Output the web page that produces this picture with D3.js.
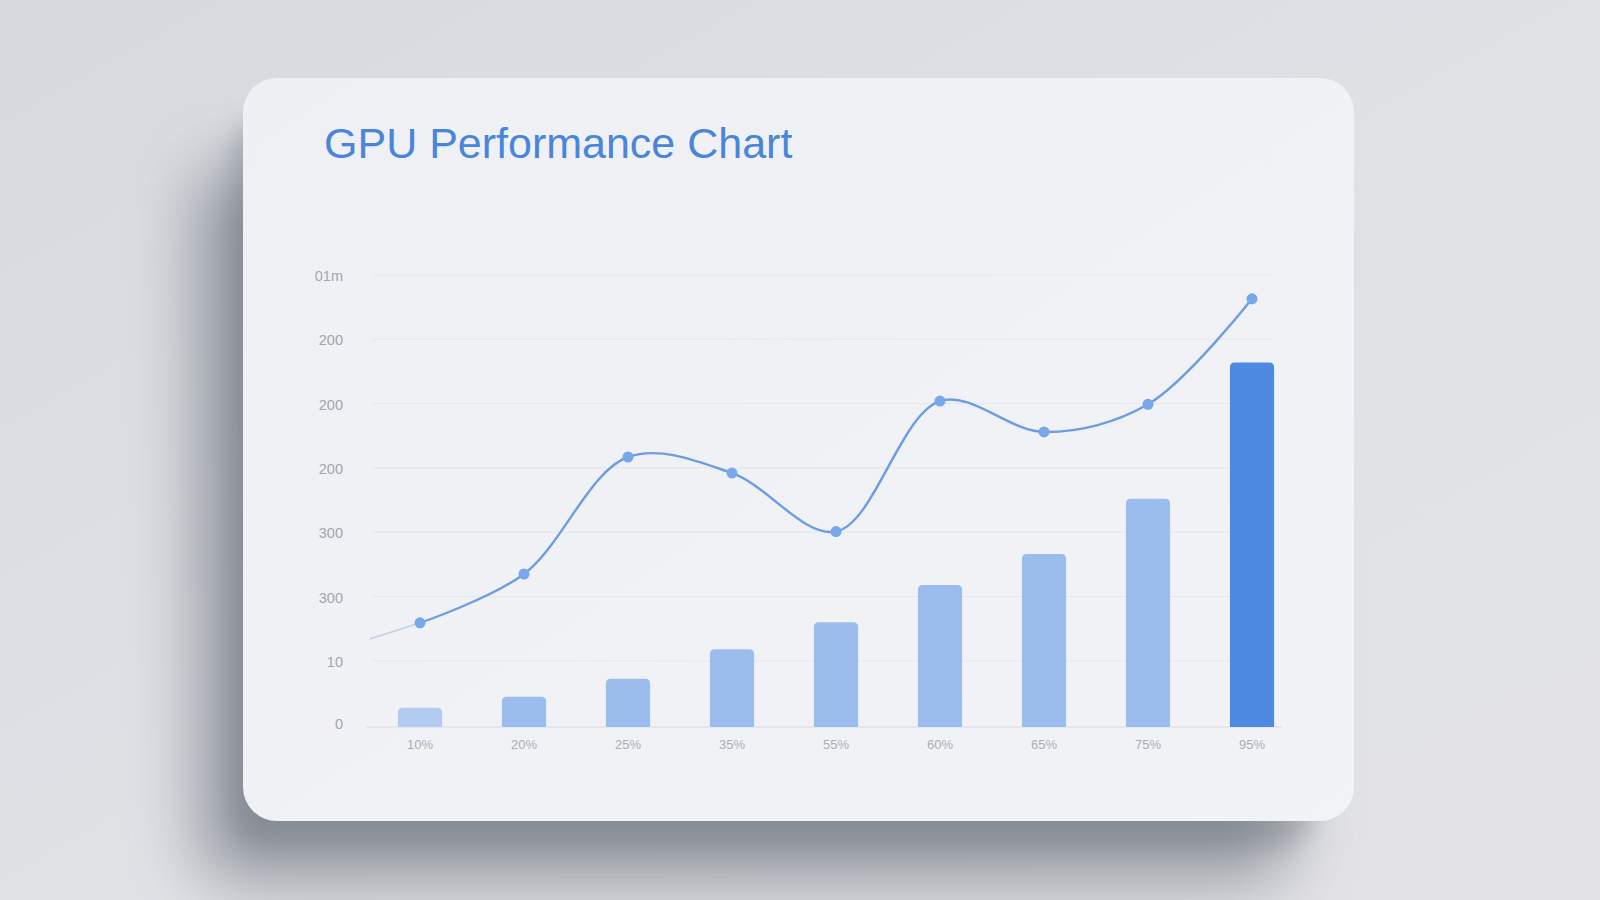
<!DOCTYPE html>
<html>
<head>
<meta charset="utf-8">
<script src="https://cdn.jsdelivr.net/npm/d3@7"></script>
<style>
  html, body { margin: 0; padding: 0; width: 1600px; height: 900px; overflow: hidden; background: #dfe1e5; }
  svg { display: block; }
</style>
</head>
<body>
<svg id="chart" width="1600" height="900"></svg>
<script>
// ---- data ----
const categories = ["10%", "20%", "25%", "35%", "55%", "60%", "65%", "75%", "95%"];
const barValues  = [30, 47, 75, 121, 163, 221, 269, 355, 567];
const lineValues = [162, 238, 420, 395, 304, 507, 459, 502, 666];
const lineLeadValue = 137;           // faint lead-in at the left edge of the plot
const yTickValues = [0, 100, 200, 300, 400, 500, 600, 700];
const yTickLabels = ["0", "10", "300", "300", "200", "200", "200", "01m"];
const titleText = "GPU Performance Chart";

// ---- layout ----
const W = 1600, H = 900;
const card = { x: 243, y: 78, w: 1111, h: 743, r: 34 };
const plot = { left: 368, right: 1304, top: 277, bottom: 727 };

const svg = d3.select("#chart");
const defs = svg.append("defs");

// background gradient
const bg = defs.append("linearGradient").attr("id", "bg").attr("x1", 0).attr("y1", 0).attr("x2", 1).attr("y2", 1);
bg.append("stop").attr("offset", "0%").attr("stop-color", "#d6d9de");
bg.append("stop").attr("offset", "55%").attr("stop-color", "#e0e2e6");
bg.append("stop").attr("offset", "100%").attr("stop-color", "#e3e3e7");
svg.append("rect").attr("width", W).attr("height", H).attr("fill", "url(#bg)");

// card shadow
const sh = defs.append("filter").attr("id", "shadow").attr("x", "-30%").attr("y", "-30%").attr("width", "160%").attr("height", "160%");
sh.append("feGaussianBlur").attr("stdDeviation", 34);
const sh2 = defs.append("filter").attr("id", "shadow2").attr("x", "-30%").attr("y", "-30%").attr("width", "160%").attr("height", "160%");
sh2.append("feGaussianBlur").attr("stdDeviation", 12);

svg.append("rect")
  .attr("x", card.x - 45).attr("y", card.y + 90).attr("width", card.w - 20).attr("height", card.h - 30)
  .attr("rx", card.r).attr("fill", "#5f6670").attr("opacity", 0.6).attr("filter", "url(#shadow)");
svg.append("rect")
  .attr("x", card.x - 12).attr("y", card.y + 40).attr("width", card.w - 30).attr("height", card.h - 15)
  .attr("rx", card.r).attr("fill", "#6d747e").attr("opacity", 0.35).attr("filter", "url(#shadow2)");

// card
const cg = defs.append("linearGradient").attr("id", "cardg").attr("x1", 0).attr("y1", 0).attr("x2", 1).attr("y2", 1);
cg.append("stop").attr("offset", "0%").attr("stop-color", "#eef0f3");
cg.append("stop").attr("offset", "100%").attr("stop-color", "#f2f3f6");
svg.append("rect")
  .attr("x", card.x).attr("y", card.y).attr("width", card.w).attr("height", card.h)
  .attr("rx", card.r).attr("fill", "url(#cardg)");

// title
svg.append("text")
  .attr("x", 324).attr("y", 158)
  .attr("font-family", "'Liberation Sans', Arial, sans-serif")
  .attr("font-size", 43)
  .attr("fill", "#4a85dc")
  .text(titleText);

// ---- scales ----
const x = d3.scaleBand().domain(categories).range([plot.left, plot.right]).paddingInner(0.575).paddingOuter(0.2875);
const y = d3.scaleLinear().domain([0, 700]).range([plot.bottom, plot.top]);
const cx = d => x(d) + x.bandwidth() / 2;

// gridlines
svg.append("g").selectAll("line").data(yTickValues.slice(1)).join("line")
  .attr("x1", plot.left + 4).attr("x2", 1272)
  .attr("y1", d => y(d) - 2).attr("y2", d => y(d) - 2)
  .attr("stroke", "#e6e8ec").attr("stroke-width", 1.1);
svg.append("line")
  .attr("x1", plot.left - 2).attr("x2", 1282)
  .attr("y1", y(0)).attr("y2", y(0))
  .attr("stroke", "#e0e3e8").attr("stroke-width", 1.5);

// y axis
const yAxis = d3.axisLeft(y).tickValues(yTickValues).tickSize(0).tickPadding(0)
  .tickFormat((d, i) => yTickLabels[i]);
const yg = svg.append("g").attr("transform", `translate(343,0)`).call(yAxis);
yg.select(".domain").remove();
yg.selectAll("text")
  .attr("font-family", "'Liberation Sans', Arial, sans-serif")
  .attr("font-size", 14.5).attr("fill", "#a2a6ad")
  .attr("dy", (d) => d === 0 ? "0.1em" : "0.25em");

// x axis
const xAxis = d3.axisBottom(x).tickSize(0).tickPadding(0);
const xg = svg.append("g").attr("transform", `translate(0,740)`).call(xAxis);
xg.select(".domain").remove();
xg.selectAll("text")
  .attr("font-family", "'Liberation Sans', Arial, sans-serif")
  .attr("font-size", 13).attr("fill", "#aaaeb5").attr("dy", "0.71em");

// bars
const barColor = (i) => i === 0 ? "#b4cbf1" : (i === categories.length - 1 ? "#4d8ae2" : "#9bbdee");
const barPath = (x0, w, yTop, yBase, r) =>
  `M${x0},${yBase}V${yTop + r}Q${x0},${yTop} ${x0 + r},${yTop}H${x0 + w - r}Q${x0 + w},${yTop} ${x0 + w},${yTop + r}V${yBase}Z`;
svg.append("g").selectAll("path").data(barValues).join("path")
  .attr("d", (d, i) => barPath(x(categories[i]), x.bandwidth(), y(d), y(0), 5))
  .attr("fill", (d, i) => barColor(i));

// line
const pts = lineValues.map((v, i) => [cx(categories[i]), y(v)]);
const leadPt = [plot.left + 2, y(lineLeadValue)];
svg.append("path")
  .attr("d", d3.line().curve(d3.curveLinear)([leadPt, pts[0]]))
  .attr("fill", "none").attr("stroke", "#c9d3e2").attr("stroke-width", 1.8);
svg.append("path")
  .attr("d", d3.line().curve(d3.curveCatmullRom.alpha(0.5))(pts))
  .attr("fill", "none").attr("stroke", "#6c9de2").attr("stroke-width", 2.4);
svg.append("g").selectAll("circle").data(pts).join("circle")
  .attr("cx", d => d[0]).attr("cy", d => d[1]).attr("r", 5.5)
  .attr("fill", "#78a7ea");
</script>
</body>
</html>
